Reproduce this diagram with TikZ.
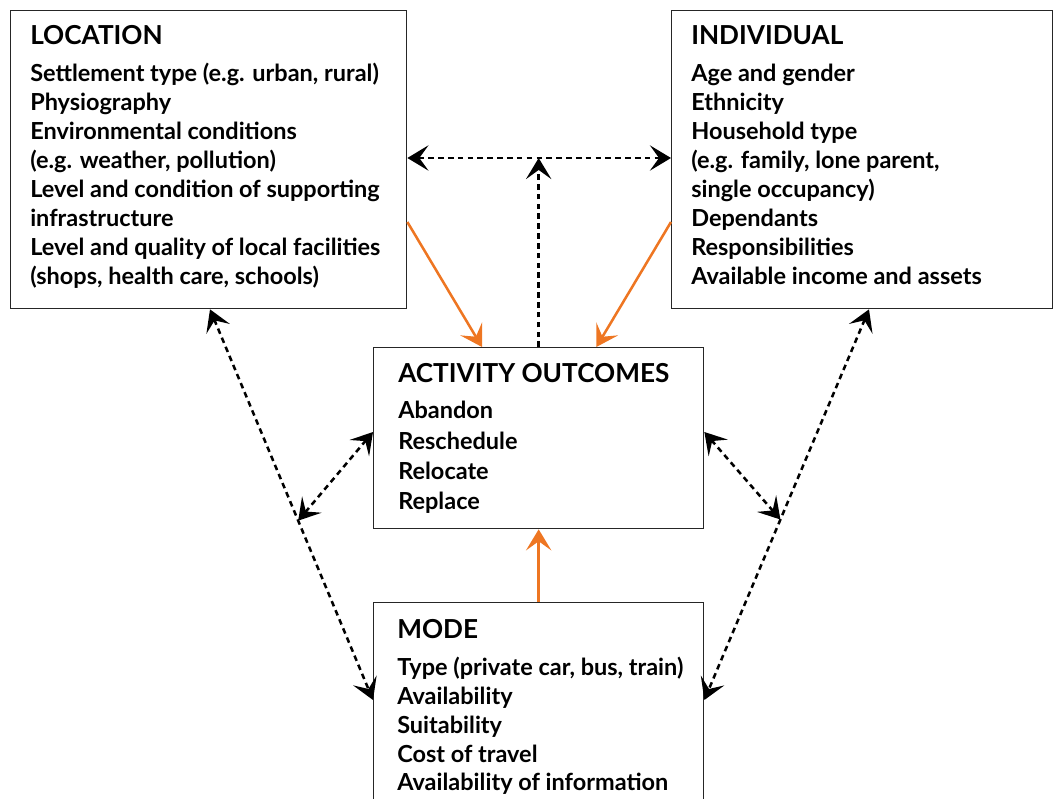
\documentclass[tikz,border=0pt]{standalone}
\usepackage{fontspec}
\setmainfont{Lato}
\usetikzlibrary{positioning,calc}
\usetikzlibrary{arrows.meta}
\definecolor{FlowOrange}{RGB}{238,118,34}
\tikzset{box/.style={draw=black!85,line width=0.9pt,anchor=north west,inner sep=0pt}, head/.style={font=\bfseries\fontsize{18.6}{22}\selectfont,anchor=base west,inner sep=0pt}, item/.style={font=\bfseries\fontsize{16.7}{20}\selectfont,anchor=base west,inner sep=0pt}, link/.style={draw=black,line width=1.8pt,dash pattern=on 4pt off 3pt}, flow/.style={draw=FlowOrange,line width=1.8pt,->}, >={Stealth[length=15pt,width=18pt,inset=6.5pt]}}

\begin{document}
\begin{tikzpicture}[x=0.025cm,y=-0.025cm]
\useasboundingbox (0,0) rectangle (1054,799);
% the four boxes
\node[box,minimum width=9.9cm,minimum height=7.45cm] (location) at (10,10) {};
\node[box,minimum width=9.525cm,minimum height=7.45cm] (individual) at (671,10) {};
\node[box,minimum width=8.25cm,minimum height=4.525cm] (activity) at (373,347) {};
\node[box,minimum width=8.25cm,minimum height=6cm] (mode) at (373,602) {};
% box texts
\node[head] (location-title) at (30,45) {LOCATION};
\foreach \t [count=\i] in {{Settlement type (e.g. urban, rural)},Physiography,Environmental conditions,{(e.g. weather, pollution)},Level and condition of supporting,infrastructure,Level and quality of local facilities,{(shops, health care, schools)}}
  \node[item] (location-\i) at (30,53+29*\i) {\t};
\node[head] (individual-title) at (691,45) {INDIVIDUAL};
\foreach \t [count=\i] in {Age and gender,Ethnicity,Household type,{(e.g. family, lone parent,},single occupancy),Dependants,Responsibilities,Available income and assets}
  \node[item] (individual-\i) at (691,53+29*\i) {\t};
\node[head] (activity-title) at (398,383) {ACTIVITY OUTCOMES};
\foreach \t [count=\i] in {Abandon,Reschedule,Relocate,Replace}
  \node[item] (activity-\i) at (398,388.7+30.3*\i) {\t};
\node[head] (mode-title) at (397,639) {MODE};
\foreach \t [count=\i] in {{Type (private car, bus, train)},Availability,Suitability,Cost of travel,Availability of information}
  \node[item] (mode-\i) at (397,647.3+28.7*\i) {\t};
% dotted links
\coordinate (loc-link) at ($(location.north east)+(0,148)$);
\coordinate (ind-link) at ($(individual.north west)+(0,148)$);
\draw[link,<->] (loc-link) -- (ind-link);
\draw[link,->] (activity.north) -- (activity.north |- loc-link);
\coordinate (loc-foot) at ($(location.south west)+(200,0)$);
\coordinate (mode-left) at ($(mode.north west)+(0,98)$);
\coordinate (ljoin) at ($(loc-foot)!0.541!(mode-left)$);
\draw[link,<->] (loc-foot) -- (mode-left);
\draw[link,<->] (ljoin) -- ($(activity.north west)+(0,85)$);
\coordinate (ind-foot) at ($(individual.south west)+(198,0)$);
\coordinate (mode-right) at ($(mode.north east)+(0,98)$);
\coordinate (rjoin) at ($(ind-foot)!0.538!(mode-right)$);
\draw[link,<->] (ind-foot) -- (mode-right);
\draw[link,<->] (rjoin) -- ($(activity.north east)+(0,85)$);
% orange influences
\draw[flow] ($(location.north east)+(0,212)$) -- ($(activity.north west)+(109,0)$);
\draw[flow] ($(individual.north west)+(0,212)$) -- ($(activity.north east)+(-108,0)$);
\draw[flow] (mode.north) -- (activity.south);
\end{tikzpicture}
\end{document}
